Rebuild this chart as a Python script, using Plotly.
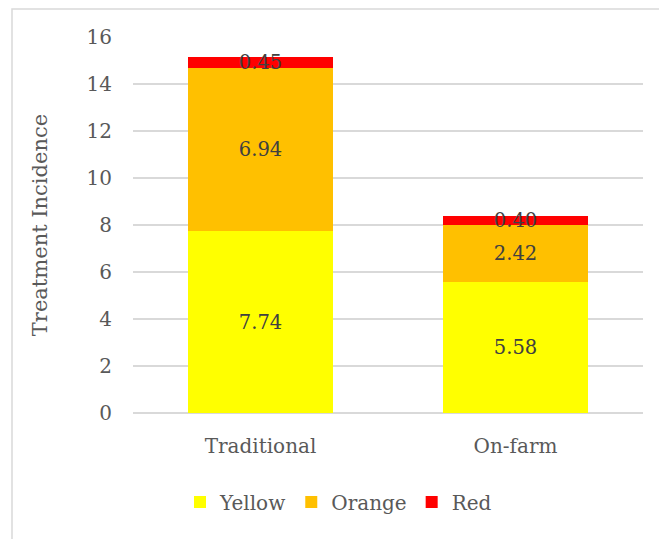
import plotly.graph_objects as go

categories = ["Traditional", "On-farm"]
yellow = [7.74, 5.58]
orange = [6.94, 2.42]
red = [0.45, 0.40]
series_names = ["Yellow", "Orange", "Red"]
series_values = [yellow, orange, red]
series_colors = ["#FFFF00", "#FFC000", "#FF0000"]
y_ticks = [0, 2, 4, 6, 8, 10, 12, 14, 16]

FONT = "DejaVu Serif"
W, H = 659, 539

fig = go.Figure()
for name, vals, col in zip(series_names, series_values, series_colors):
    fig.add_trace(go.Bar(
        x=categories, y=vals, name=name,
        marker=dict(color=col, line=dict(width=0)),
        text=[f"{v:.2f}" for v in vals],
        textposition="inside", insidetextanchor="middle",
        constraintext="none",
        textfont=dict(family=FONT, size=19.5, color="#404040"),
        cliponaxis=False,
    ))

fig.update_layout(
    barmode="stack",
    width=W, height=H,
    margin=dict(l=133, r=16, t=37, b=126),
    paper_bgcolor="white", plot_bgcolor="white",
    bargap=0.43,
    font=dict(family=FONT, color="#595959"),
    showlegend=True,
    legend=dict(orientation="h", x=0.5 + 9 / W, xanchor="center", xref="container",
                y=(H - 502) / H, yanchor="middle", yref="container",
                font=dict(family=FONT, size=20, color="#595959"),
                itemwidth=30, traceorder="normal"),
    xaxis=dict(showline=False, ticks="", ticklabelstandoff=19,
               tickfont=dict(family=FONT, size=20, color="#595959")),
    yaxis=dict(range=[0, 16], tickvals=y_ticks, showgrid=True, gridcolor="#D9D9D9", gridwidth=1.5,
               zeroline=True, zerolinecolor="#D9D9D9", zerolinewidth=1.5,
               ticks="", ticklabelstandoff=20,
               tickfont=dict(family=FONT, size=20, color="#595959"),
               title=dict(text="Treatment Incidence", standoff=33,
                          font=dict(family=FONT, size=21, color="#595959"))),
    shapes=[dict(type="rect", xref="paper", yref="paper",
                 x0=(12 - 133) / (W - 133 - 16), x1=(W + 10 - 133) / (W - 133 - 16),
                 y0=(413 - H - 10) / (413 - 37), y1=(413 - 9) / (413 - 37),
                 line=dict(color="#D9D9D9", width=1.5), fillcolor="rgba(0,0,0,0)", layer="below")],
)

fig.write_html("out.html")
